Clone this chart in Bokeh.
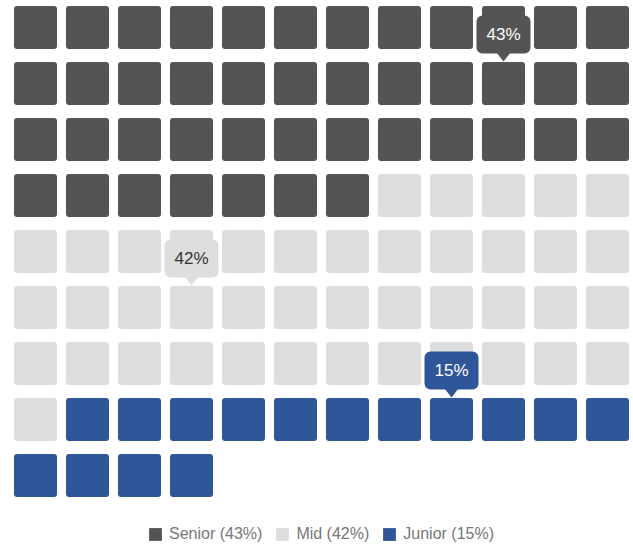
from bokeh.plotting import figure
from bokeh.models import Range1d, Legend, LegendItem
from bokeh.core.properties import value
from bokeh.embed import file_html
from bokeh.resources import INLINE

# ---- data ----
categories = ["Senior", "Mid", "Junior"]
percentages = [43, 42, 15]
colors = ["#545454", "#dedede", "#30569a"]
label_text_colors = ["#ffffff", "#333333", "#ffffff"]
n_cols = 12

# ---- layout (styles) ----
W, H = 633, 548
X0, Y0 = 35, 27        # centre of first cell (px)
DX, DY = 52, 56        # cell pitch
CELL = 43              # cell size
TIP_W, TIP_H = 54, 38  # tooltip box
ARROW_H, ARROW_HALF = 8, 7
FONT = value("Liberation Sans")

p = figure(width=W, height=H, x_range=Range1d(0, W), y_range=Range1d(H, 0),
           output_backend="svg", toolbar_location=None, min_border=0,
           margin=(0, 0, 0, 0))
p.axis.visible = False
p.grid.visible = False
p.outline_line_color = None
p.background_fill_color = "white"
p.border_fill_color = "white"

items = []
tooltips = []
start = 0
for cat, pct, col, tcol in zip(categories, percentages, colors, label_text_colors):
    idx = list(range(start, start + pct))
    xs = [X0 + DX * (i % n_cols) for i in idx]
    ys = [Y0 + DY * (i // n_cols) for i in idx]
    r = p.rect(x=xs, y=ys, width=CELL, height=CELL, fill_color=col,
               line_color=None, border_radius=3)
    items.append(LegendItem(label=f"{cat} ({pct}%)", renderers=[r]))
    mid = (start + start + pct - 1) // 2
    tooltips.append((mid, pct, col, tcol))
    start += pct

for mid, pct, col, tcol in tooltips:
    cx = X0 + DX * (mid % n_cols)
    cell_top = Y0 + DY * (mid // n_cols) - CELL / 2
    bottom = cell_top - ARROW_H - 0.5
    top = bottom - TIP_H
    p.quad(left=cx - TIP_W / 2, right=cx + TIP_W / 2, top=top, bottom=bottom,
           fill_color=col, line_color=None, border_radius=6)
    p.patch(x=[cx - ARROW_HALF, cx + ARROW_HALF, cx],
            y=[bottom - 1, bottom - 1, bottom + ARROW_H],
            fill_color=col, line_color=None)
    p.text(x=[cx], y=[(top + bottom) / 2], text=[f"{pct}%"],
           text_align="center", text_baseline="middle",
           text_font=FONT, text_font_size="17px", text_color=tcol)

legend = Legend(items=items, orientation="horizontal", location=(147, 5),
                glyph_width=16, glyph_height=16, label_standoff=6, spacing=12,
                padding=0, margin=0, border_line_color=None,
                background_fill_alpha=0, label_text_font="Liberation Sans",
                label_text_font_size="16px", label_text_color="#777777",
                label_height=16)
p.add_layout(legend, "center")

open("out.html", "w").write(file_html(p, INLINE))
